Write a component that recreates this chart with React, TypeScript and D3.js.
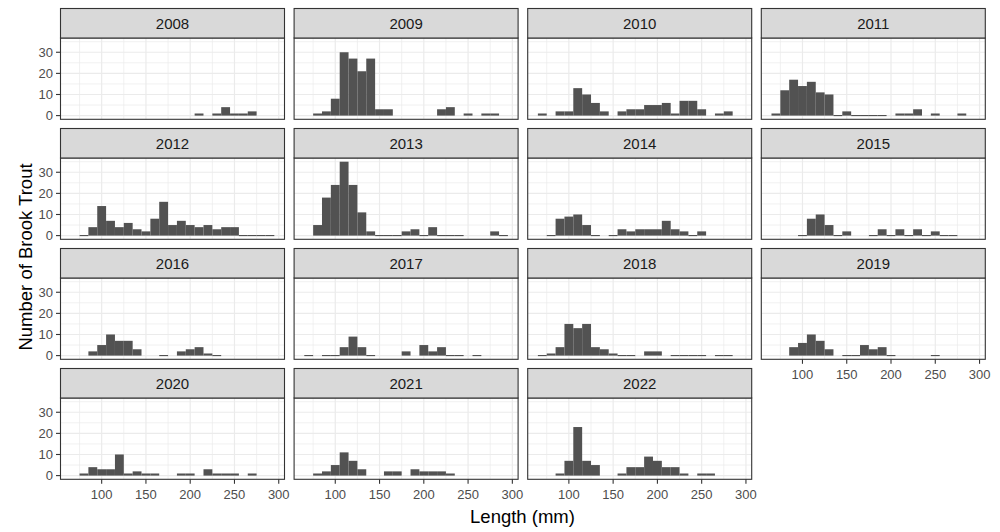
import React from 'react';
import * as d3 from 'd3';

// Bin centers (mm), bin width 10
const binCenters = [70, 80, 90, 100, 110, 120, 130, 140, 150, 160, 170, 180, 190, 200, 210, 220, 230, 240, 250, 260, 270, 280, 290];
const binWidth = 10;

const _ = null;
// counts per bin (null = no bar, 0 = empty bin drawn as a hairline)
const counts2008 = [_, _, _, _, _, _, _, _, _, _, _, _, _, _, 1, _, 1, 4, 1, 1, 2, _, _];
const counts2009 = [_, 1, 2, 8, 30, 27, 21, 27, 3, 3, _, _, _, _, _, 3, 4, _, 1, _, 1, 1, _];
const counts2010 = [1, _, 2, 2, 13, 10, 6, 2, _, 2, 3, 3, 5, 5, 6, 1, 7, 7, 3, _, 1, 2, _];
const counts2011 = [1, 12, 17, 14, 16, 11, 10, 0, 2, 0, 0, 0, 0, _, 1, 1, 3, _, 1, _, _, 1, _];
const counts2012 = [_, 0, 4, 14, 7, 4, 6, 3, 2, 8, 16, 5, 7, 5, 4, 5, 3, 4, 4, 0, 0, 0, 0];
const counts2013 = [_, 5, 18, 24, 35, 24, 11, 2, 0, 0, 0, 2, 3, 0, 4, 0, 0, 0, _, _, _, 2, 0];
const counts2014 = [_, 0, 8, 9, 10, 5, 0, _, 0, 3, 2, 3, 3, 3, 7, 3, 2, 0, 2, _, _, _, _];
const counts2015 = [_, _, _, 0, 8, 10, 5, 0, 2, _, _, 0, 3, 0, 3, 0, 3, 0, 2, 0, 0, _, _];
const counts2016 = [_, _, 2, 5, 10, 7, 7, 3, _, _, 0, _, 2, 3, 4, 1, 0, _, _, _, _, _, _];
const counts2017 = [0, _, 0, 0, 4, 9, 4, 0, _, _, _, 2, _, 5, 2, 4, 0, 0, _, 0, _, _, _];
const counts2018 = [0, 1, 4, 15, 13, 15, 4, 3, 1, 0, 0, _, 2, 2, _, 0, 0, 0, 0, _, 0, 0, _];
const counts2019 = [_, _, 4, 6, 10, 7, 3, _, 0, 0, 5, 3, 4, 0, _, _, _, _, 0, _, _, _, _];
const counts2020 = [_, 1, 4, 3, 3, 10, 1, 2, 1, 1, _, _, 1, 1, _, 3, 1, 1, 1, _, 1, _, _];
const counts2021 = [_, 1, 2, 5, 11, 7, 3, _, _, 2, 2, _, 3, 2, 2, 2, 1, _, _, _, _, _, _];
const counts2022 = [_, _, 1, 7, 23, 7, 5, _, _, 1, 4, 4, 9, 7, 4, 4, 1, _, 1, 1, _, _, _];

const years = ['2008', '2009', '2010', '2011', '2012', '2013', '2014', '2015', '2016', '2017', '2018', '2019', '2020', '2021', '2022'];
const yearCounts = [counts2008, counts2009, counts2010, counts2011, counts2012, counts2013, counts2014, counts2015, counts2016, counts2017, counts2018, counts2019, counts2020, counts2021, counts2022];

const xMajor = [100, 150, 200, 250, 300];
const xMinor = [75, 125, 175, 225, 275];
const yMajor = [0, 10, 20, 30];
const yMinor = [5, 15, 25, 35];

const xTitle = 'Length (mm)';
const yTitle = 'Number of Brook Trout';

const W = 1000;
const H = 532;
const NCOL = 4;
const left0 = 60.5;
const colStep = 233.6;
const panelW = 224;
const stripTop0 = 8.5;
const rowStep = 120;
const stripH = 29.5;
const plotH = 81.3;

const FONT = '"Liberation Sans", Arial, Helvetica, sans-serif';
const BAR = '#525252';

const xDomainRaw = [binCenters[0] - binWidth / 2, binCenters[binCenters.length - 1] + binWidth / 2];
const xPad = (xDomainRaw[1] - xDomainRaw[0]) * 0.05;
const xDomain = [xDomainRaw[0] - xPad, xDomainRaw[1] + xPad];
const yMax = d3.max(yearCounts.flat().filter((v) => v != null) as number[]) as number;
const yDomain = [-yMax * 0.05, yMax * 1.05];

function Panel({ idx }: { idx: number }) {
  const col = idx % NCOL;
  const row = Math.floor(idx / NCOL);
  const x0 = left0 + col * colStep;
  const stripTop = stripTop0 + row * rowStep;
  const top = stripTop + stripH;
  const bottom = top + plotH;
  const nRows = Math.ceil(years.length / NCOL);
  const hasXAxis = row === nRows - 1 || idx + NCOL >= years.length;
  const hasYAxis = col === 0;

  const x = d3.scaleLinear().domain(xDomain).range([x0, x0 + panelW]);
  const y = d3.scaleLinear().domain(yDomain).range([bottom, top]);
  const counts = yearCounts[idx];

  return (
    <g>
      <rect x={x0} y={top} width={panelW} height={plotH} fill="#FFFFFF" />
      {xMinor.map((v) => (
        <line key={'xm' + v} x1={x(v)} x2={x(v)} y1={top} y2={bottom} stroke="#EBEBEB" strokeWidth={0.7} />
      ))}
      {yMinor.map((v) => (
        <line key={'ym' + v} x1={x0} x2={x0 + panelW} y1={y(v)} y2={y(v)} stroke="#EBEBEB" strokeWidth={0.7} />
      ))}
      {xMajor.map((v) => (
        <line key={'xM' + v} x1={x(v)} x2={x(v)} y1={top} y2={bottom} stroke="#EBEBEB" strokeWidth={1.2} />
      ))}
      {yMajor.map((v) => (
        <line key={'yM' + v} x1={x0} x2={x0 + panelW} y1={y(v)} y2={y(v)} stroke="#EBEBEB" strokeWidth={1.2} />
      ))}
      {counts.map((v, i) => {
        if (v == null) return null;
        const c = binCenters[i];
        const xl = x(c - binWidth / 2);
        const xr = x(c + binWidth / 2);
        if (v === 0) {
          return <rect key={'b' + i} x={xl} y={y(0) - 0.6} width={xr - xl} height={1.1} fill={BAR} />;
        }
        return <rect key={'b' + i} x={xl} y={y(v)} width={xr - xl} height={y(0) - y(v)} fill={BAR} />;
      })}
      <rect x={x0} y={top} width={panelW} height={plotH} fill="none" stroke="#333333" strokeWidth={1.1} />
      <rect x={x0} y={stripTop} width={panelW} height={stripH} fill="#D9D9D9" stroke="#333333" strokeWidth={1.1} />
      <text x={x0 + panelW / 2} y={stripTop + stripH / 2} dy="0.36em" textAnchor="middle" fontSize={15} fill="#1A1A1A" fontFamily={FONT}>
        {years[idx]}
      </text>
      {hasYAxis &&
        yMajor.map((v) => (
          <g key={'yt' + v}>
            <line x1={x0 - 4.5} x2={x0} y1={y(v)} y2={y(v)} stroke="#333333" strokeWidth={1.1} />
            <text x={x0 - 7.5} y={y(v)} dy="0.36em" textAnchor="end" fontSize={13} fill="#4D4D4D" fontFamily={FONT}>
              {v}
            </text>
          </g>
        ))}
      {hasXAxis &&
        xMajor.map((v) => (
          <g key={'xt' + v}>
            <line x1={x(v)} x2={x(v)} y1={bottom} y2={bottom + 4.5} stroke="#333333" strokeWidth={1.1} />
            <text x={x(v)} y={bottom + 20} textAnchor="middle" fontSize={13} fill="#4D4D4D" fontFamily={FONT}>
              {v}
            </text>
          </g>
        ))}
    </g>
  );
}

export default function App() {
  return (
    <svg
      width={W}
      height={H}
      viewBox={`0 0 ${W} ${H}`}
      style={{ position: 'absolute', left: 0, top: 0, background: '#FFFFFF' }}
    >
      <rect x={0} y={0} width={W} height={H} fill="#FFFFFF" />
      {years.map((yr, i) => (
        <Panel key={yr} idx={i} />
      ))}
      <text x={522.5} y={523} textAnchor="middle" fontSize={18.5} fill="#000000" fontFamily={FONT}>
        {xTitle}
      </text>
      <text
        transform={`translate(32,257) rotate(-90)`}
        textAnchor="middle"
        fontSize={18.5}
        fill="#000000"
        fontFamily={FONT}
      >
        {yTitle}
      </text>
    </svg>
  );
}
